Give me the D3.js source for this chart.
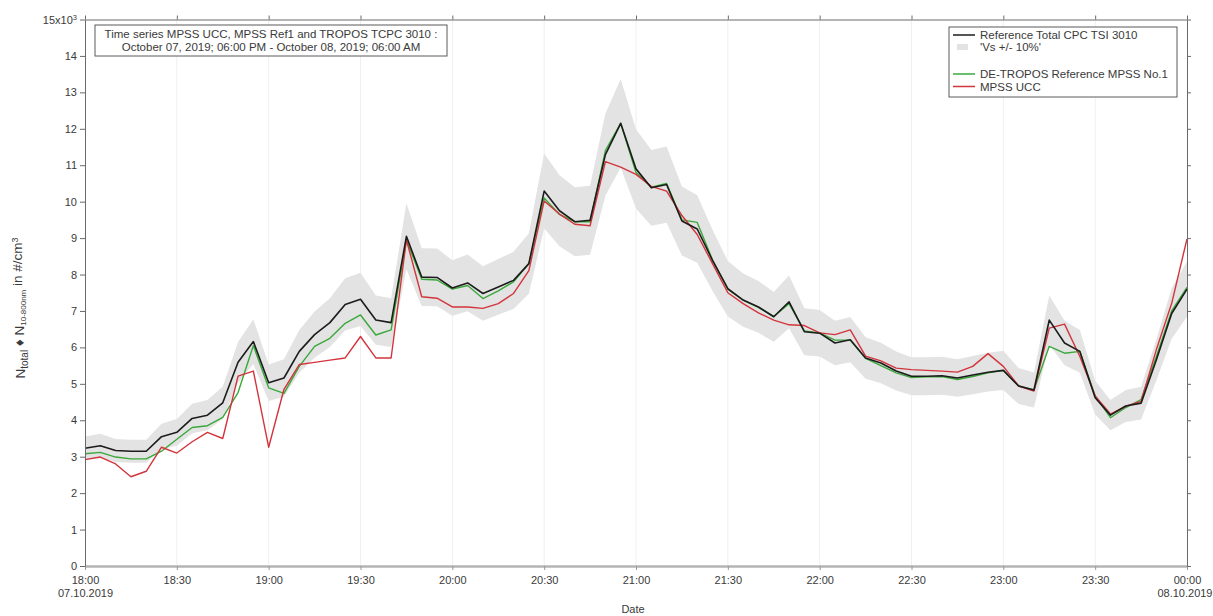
<!DOCTYPE html>
<html>
<head>
<meta charset="utf-8">
<script src="https://cdn.jsdelivr.net/npm/d3@7"></script>
<style>
  html, body { margin: 0; padding: 0; background: #fff; }
  svg { display: block; font-family: "Liberation Sans", Arial, sans-serif; }
</style>
</head>
<body>
<svg id="chart" width="1213" height="616"></svg>
<script>
// Sampling times (local clock, evening of 07.10.2019 into 08.10.2019)
const times = [
  "18:00","18:05","18:10","18:15","18:20","18:25","18:30","18:35","18:40","18:45","18:50","18:55",
  "19:00","19:05","19:10","19:15","19:20","19:25","19:30","19:35","19:40","19:45","19:50","19:55",
  "20:00","20:05","20:10","20:15","20:20","20:25","20:30","20:35","20:40","20:45","20:50","20:55",
  "21:00","21:05","21:10","21:15","21:20","21:25","21:30","21:35","21:40","21:45","21:50","21:55",
  "22:00","22:05","22:10","22:15","22:20","22:25","22:30","22:35","22:40","22:45","22:50","22:55",
  "23:00","23:05","23:10","23:15","23:20","23:25","23:30","23:35","23:40","23:45","23:50","23:55",
  "00:00"
];

// Total number concentration, in 10^3 #/cm^3
const refCpc = [
  3.23,3.30,3.17,3.15,3.15,3.55,3.67,4.05,4.14,4.48,5.59,6.16,
  5.03,5.16,5.89,6.35,6.68,7.18,7.32,6.75,6.68,9.05,7.93,7.92,
  7.63,7.77,7.48,7.66,7.84,8.30,10.29,9.75,9.45,9.49,11.29,12.15,
  10.90,10.38,10.47,9.47,9.25,8.39,7.61,7.30,7.11,6.84,7.25,6.43,
  6.39,6.12,6.21,5.71,5.57,5.35,5.21,5.21,5.22,5.16,5.24,5.32,
  5.37,4.94,4.83,6.75,6.12,5.89,4.62,4.14,4.39,4.47,5.66,6.93,
  7.60
];
const mpssRef = [
  3.08,3.12,2.99,2.94,2.94,3.15,3.48,3.80,3.85,4.08,4.76,6.05,
  4.89,4.74,5.48,6.03,6.25,6.66,6.89,6.34,6.48,8.95,7.87,7.85,
  7.60,7.70,7.34,7.55,7.80,8.30,10.10,9.65,9.45,9.45,11.40,12.15,
  10.80,10.40,10.50,9.50,9.43,8.40,7.60,7.30,7.10,6.85,7.20,6.45,
  6.40,6.20,6.20,5.70,5.50,5.30,5.17,5.19,5.20,5.12,5.20,5.30,
  5.37,4.94,4.83,6.03,5.84,5.89,4.67,4.07,4.35,4.57,5.75,7.00,
  7.65
];
const mpssUcc = [
  2.92,2.99,2.80,2.45,2.60,3.26,3.10,3.41,3.67,3.50,5.21,5.35,
  3.26,4.85,5.53,5.59,5.65,5.71,6.30,5.71,5.71,8.95,7.39,7.35,
  7.11,7.11,7.07,7.20,7.48,8.11,10.02,9.66,9.38,9.34,11.10,10.95,
  10.75,10.42,10.29,9.62,9.10,8.30,7.50,7.20,6.95,6.75,6.62,6.60,
  6.40,6.35,6.48,5.76,5.63,5.43,5.39,5.37,5.35,5.32,5.48,5.83,
  5.48,4.94,4.80,6.53,6.64,5.75,4.67,4.17,4.39,4.52,5.94,7.21,
  8.98
];

// Relative tolerance band around the reference counter
const bandFraction = 0.10;

const xTickTimes = ["18:00","18:30","19:00","19:30","20:00","20:30","21:00","21:30","22:00","22:30","23:00","23:30","00:00"];
const xDateLines = { "18:00": "07.10.2019", "00:00": "08.10.2019" };
const yTickValues = [0,1,2,3,4,5,6,7,8,9,10,11,12,13,14,15];

const titleLines = [
  "Time series MPSS UCC, MPSS Ref1 and TROPOS TCPC 3010 :",
  "October 07, 2019; 06:00 PM - October 08, 2019; 06:00 AM"
];
const legendLabels = [
  "Reference Total CPC TSI 3010",
  "'Vs +/- 10%'",
  "DE-TROPOS Reference MPSS No.1",
  "MPSS UCC"
];

const colors = { ref: "#1c1c1c", mpss: "#3aa83a", ucc: "#d2343c", band: "#e3e3e3", axis: "#6a6a6a", text: "#3a3a3a" };
const fontSize = { tick: 11, title: 11.5, legend: 11.5, axisTitle: 11 };

function toDate(hhmm) {
  const [h, m] = hhmm.split(":").map(Number);
  return h < 12 ? new Date(2019, 9, 8, h, m) : new Date(2019, 9, 7, h, m);
}

const svg = d3.select("#chart");
const plotLeft = 85, plotRight = 1187, plotTop = 19.5, plotBottom = 566;

const x = d3.scaleTime().domain([toDate("18:00"), toDate("00:00")]).range([plotLeft, plotRight]);
const y = d3.scaleLinear().domain([0, 15]).range([plotBottom, plotTop]);

const rows = times.map((t, i) => ({ t: toDate(t), ref: refCpc[i], mpss: mpssRef[i], ucc: mpssUcc[i] }));

// faint vertical grid at the half-hour ticks
svg.append("g").selectAll("line")
  .data(xTickTimes.slice(1, -1).map(toDate))
  .join("line")
  .attr("x1", d => x(d)).attr("x2", d => x(d))
  .attr("y1", plotTop).attr("y2", plotBottom)
  .attr("stroke", "#efefef").attr("stroke-width", 1);

// +/-10 % band
svg.append("path")
  .datum(rows)
  .attr("fill", colors.band)
  .attr("d", d3.area()
    .x(d => x(d.t))
    .y0(d => y(d.ref * (1 - bandFraction)))
    .y1(d => y(d.ref * (1 + bandFraction))));

function drawLine(key, color, width) {
  svg.append("path")
    .datum(rows)
    .attr("fill", "none")
    .attr("stroke", color)
    .attr("stroke-width", width)
    .attr("stroke-linejoin", "round")
    .attr("d", d3.line().x(d => x(d.t)).y(d => y(d[key])));
}
drawLine("mpss", colors.mpss, 1.4);
drawLine("ucc", colors.ucc, 1.4);
drawLine("ref", colors.ref, 1.6);

// axes
function styleAxis(g, stroke) {
  g.selectAll(".domain").attr("stroke", stroke);
  g.selectAll(".tick line").attr("stroke", stroke);
  g.selectAll(".tick text").attr("fill", colors.text).attr("font-size", fontSize.tick)
    .attr("font-family", "'Liberation Sans', Arial, sans-serif");
}

const xTicks = xTickTimes.map(toDate);
const fmt = d3.timeFormat("%H:%M");

const gBottom = svg.append("g").attr("transform", `translate(0,${plotBottom})`)
  .call(d3.axisBottom(x).tickValues(xTicks).tickSize(4).tickSizeOuter(0).tickFormat(fmt));
styleAxis(gBottom, "#9a9a9a");
gBottom.select(".domain").attr("stroke-width", 2.5).attr("stroke", "#b4b4b4");
gBottom.selectAll(".tick text").attr("y", 10).attr("dy", "0.71em");
gBottom.selectAll(".tick").each(function (d) {
  const extra = xDateLines[fmt(d)];
  if (extra) {
    const lbl = d3.select(this).append("text")
      .attr("y", 23).attr("dy", "0.71em")
      .attr("text-anchor", "middle")
      .attr("fill", colors.text).attr("font-size", fontSize.tick)
      .text(extra);
    // keep the last date line inside the canvas
    if (x(d) + 27 > 1213) lbl.attr("text-anchor", "end").attr("x", 1212 - x(d));
  }
});

const gTop = svg.append("g").attr("transform", `translate(0,${plotTop})`)
  .call(d3.axisTop(x).tickValues(xTicks).tickSize(4).tickSizeOuter(0).tickFormat(""));
styleAxis(gTop, colors.axis);

const gLeft = svg.append("g").attr("transform", `translate(${plotLeft},0)`)
  .call(d3.axisLeft(y).tickValues(yTickValues).tickSize(5).tickSizeOuter(0)
    .tickFormat(v => v === 15 ? "" : v));
styleAxis(gLeft, colors.axis);
// top label carries the scale factor
gLeft.selectAll(".tick").filter(d => d === 15).select("text")
  .call(t => {
    t.append("tspan").text("15x10");
    t.append("tspan").attr("font-size", 7.5).attr("dy", "-0.5em").text("3");
  });

const gRight = svg.append("g").attr("transform", `translate(${plotRight},0)`)
  .call(d3.axisRight(y).tickValues(yTickValues).tickSize(4).tickSizeOuter(0).tickFormat(""));
styleAxis(gRight, colors.axis);

// axis titles
svg.append("text")
  .attr("x", 633).attr("y", 613)
  .attr("text-anchor", "middle")
  .attr("fill", colors.text).attr("font-size", fontSize.axisTitle)
  .text("Date");

const yTitle = svg.append("text")
  .attr("transform", `translate(25,308) rotate(-90)`)
  .attr("text-anchor", "middle")
  .attr("fill", colors.text).attr("font-size", 13.5);
yTitle.append("tspan").text("N");
yTitle.append("tspan").attr("font-size", 10).attr("dy", "0.3em").text("total");
yTitle.append("tspan").attr("dy", "-0.3em").text("   \u2666   N");
yTitle.append("tspan").attr("font-size", 8).attr("dy", "0.3em").text("10-800nm");
yTitle.append("tspan").attr("dy", "-0.3em").text(" in #/cm");
yTitle.append("tspan").attr("font-size", 9).attr("dy", "-0.5em").text("3");

// title box
const tb = svg.append("g");
tb.append("rect")
  .attr("x", 95).attr("y", 25).attr("width", 352).attr("height", 31)
  .attr("fill", "#fff").attr("stroke", "#5a5a5a").attr("stroke-width", 1);
tb.selectAll("text").data(titleLines).join("text")
  .attr("x", 271).attr("y", (d, i) => 37.5 + i * 13)
  .attr("text-anchor", "middle")
  .attr("fill", colors.text).attr("font-size", fontSize.title)
  .text(d => d);

// legend
const lg = svg.append("g");
lg.append("rect")
  .attr("x", 949).attr("y", 27).attr("width", 228).attr("height", 70)
  .attr("fill", "#fff").attr("stroke", "#5a5a5a").attr("stroke-width", 1);
const legendRows = [
  { label: legendLabels[0], kind: "line", color: colors.ref, y: 35 },
  { label: legendLabels[1], kind: "box", color: colors.band, y: 47 },
  { label: legendLabels[2], kind: "line", color: colors.mpss, y: 74 },
  { label: legendLabels[3], kind: "line", color: colors.ucc, y: 86.5 }
];
legendRows.forEach(r => {
  if (r.kind === "line") {
    lg.append("line").attr("x1", 953).attr("x2", 975).attr("y1", r.y).attr("y2", r.y)
      .attr("stroke", r.color).attr("stroke-width", 1.5);
  } else {
    lg.append("rect").attr("x", 957).attr("y", r.y - 3).attr("width", 11).attr("height", 6)
      .attr("fill", r.color);
  }
  lg.append("text").attr("x", 980).attr("y", r.y).attr("dy", "0.35em")
    .attr("fill", colors.text).attr("font-size", fontSize.legend)
    .text(r.label);
});
</script>
</body>
</html>
